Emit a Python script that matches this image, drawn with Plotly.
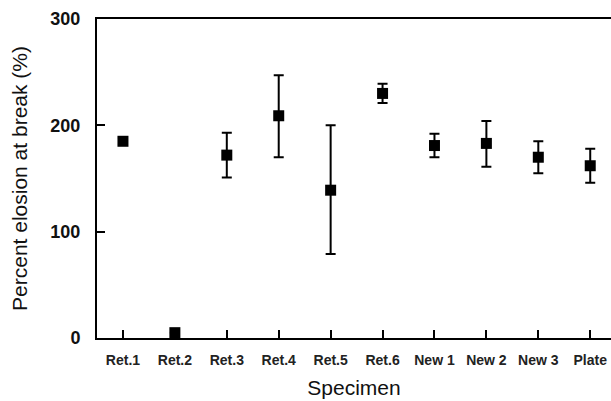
import plotly.graph_objects as go

categories = ["Ret.1", "Ret.2", "Ret.3", "Ret.4", "Ret.5", "Ret.6", "New 1", "New 2", "New 3", "Plate"]
values = [185, 5, 172, 209, 139, 230, 181, 183, 170, 162]
err_plus = [3, 0, 21, 38, 61, 9, 11, 21, 15, 16]
err_minus = [3, 0, 21, 39, 60, 9, 11, 22, 15, 16]

fig = go.Figure()
fig.add_trace(go.Scatter(
    x=list(range(len(categories))), y=values, mode="markers",
    marker=dict(symbol="square", size=11, color="black"),
    error_y=dict(type="data", array=err_plus, arrayminus=err_minus,
                 color="black", thickness=2, width=5),
    showlegend=False,
))

font_family = "Liberation Sans, Arial, sans-serif"
fig.update_layout(
    width=611, height=401,
    margin=dict(l=97, r=0, t=19, b=63),
    paper_bgcolor="white", plot_bgcolor="white",
    font=dict(family=font_family, color="black"),
    xaxis=dict(
        range=[-0.5, 9.4],
        tickmode="array", tickvals=list(range(len(categories))),
        ticktext=categories,
        ticks="inside", ticklen=8, tickwidth=2, tickcolor="black",
        showline=True, linewidth=2, linecolor="black", mirror=True,
        showgrid=False, zeroline=False,
        tickfont=dict(size=14, weight="bold", color="#222"),
        ticklabelstandoff=8,
        title=dict(text="Specimen", font=dict(size=21, color="#111"), standoff=14),
    ),
    yaxis=dict(
        range=[0, 300],
        tickvals=[0, 100, 200, 300],
        ticks="inside", ticklen=8, tickwidth=2, tickcolor="black",
        showline=True, linewidth=2, linecolor="black", mirror=False,
        showgrid=False, zeroline=False,
        tickfont=dict(size=18, weight="bold", color="#111"),
        ticklabelstandoff=11,
        title=dict(text="Percent elosion at break (%)", font=dict(size=21, color="#111"), standoff=17),
    ),
)
fig.write_html("out.html")
